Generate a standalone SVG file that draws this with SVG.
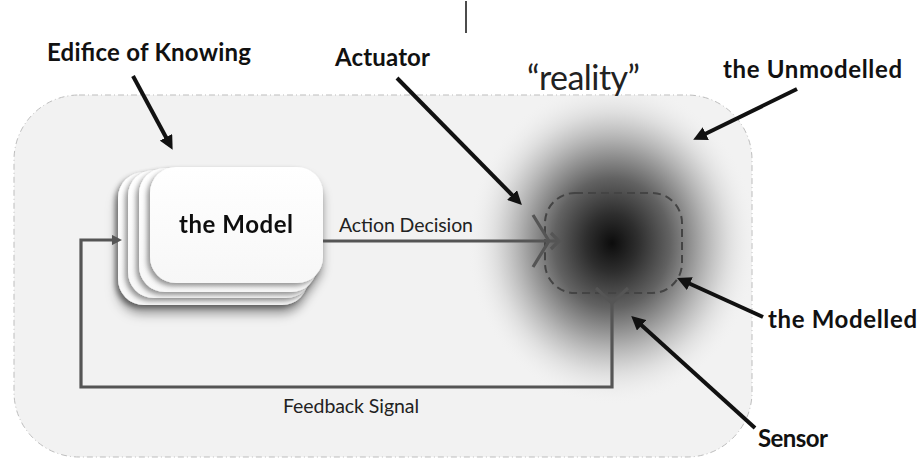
<svg xmlns="http://www.w3.org/2000/svg" width="920" height="461" viewBox="0 0 920 461">
  <defs>
    <style>
      .bold{font-family:Lato,"Open Sans","Liberation Sans",sans-serif;font-weight:700;font-size:24px;fill:#111}
      .reg{font-family:Lato,"Open Sans","Liberation Sans",sans-serif;font-size:19.5px;fill:#222}
      .pointer{stroke:#111;stroke-width:4;fill:none;marker-end:url(#head)}
      .link{stroke:#555;stroke-width:3.2;fill:none;stroke-linejoin:miter}
      .card{fill:url(#cardFill);filter:url(#cardShade)}
    </style>
    <marker id="head" viewBox="0 0 10 10" refX="3" refY="5" markerWidth="3.5" markerHeight="3.5" orient="auto">
      <path d="M0,0 L10,5 L0,10 z" fill="#111"/>
    </marker>
    <marker id="headGray" viewBox="0 0 10 10" refX="2" refY="5" markerWidth="3.2" markerHeight="3.2" orient="auto">
      <path d="M0,0 L10,5 L0,10 z" fill="#555"/>
    </marker>
    <radialGradient id="field" cx="0.5" cy="0.5" r="0.5">
      <stop offset="0" stop-color="#0c0c0c"/>
      <stop offset="0.18" stop-color="#2e2e2e"/>
      <stop offset="0.4" stop-color="#626262"/>
      <stop offset="0.6" stop-color="#a4a4a4"/>
      <stop offset="0.8" stop-color="#d8d8d8" stop-opacity="0.8"/>
      <stop offset="1" stop-color="#f2f2f2" stop-opacity="0"/>
    </radialGradient>
    <linearGradient id="cardFill" x1="0" y1="0" x2="0" y2="1">
      <stop offset="0" stop-color="#ffffff"/>
      <stop offset="1" stop-color="#f7f7f7"/>
    </linearGradient>
    <clipPath id="frame">
      <rect x="14" y="95" width="738" height="362" rx="65"/>
    </clipPath>
    <filter id="cardShade" x="-20%" y="-20%" width="140%" height="150%">
      <feDropShadow dx="-3" dy="3" stdDeviation="2.5" flood-color="#000" flood-opacity="0.4"/>
    </filter>
    <filter id="stackShadow" x="-20%" y="-20%" width="140%" height="160%">
      <feDropShadow dx="0" dy="8" stdDeviation="5" flood-color="#000" flood-opacity="0.35"/>
    </filter>
  </defs>

  <rect width="920" height="461" fill="#ffffff"/>
  <line x1="466" y1="1" x2="466" y2="33" stroke="#111" stroke-width="1.5"/>

  <!-- the Unmodelled: outer frame of reality -->
  <g id="unmodelled">
    <rect x="14" y="95" width="738" height="362" rx="65" fill="#f2f2f2" stroke="#bdbdbd" stroke-width="1" stroke-dasharray="6 3 1 3"/>
    <ellipse cx="612" cy="243" rx="145" ry="162" fill="url(#field)" clip-path="url(#frame)"/>
  </g>

  <!-- the Modelled: dashed region inside reality -->
  <g id="modelled">
    <rect x="545" y="193" width="137" height="100" rx="30" fill="none" stroke="#444" stroke-width="2" stroke-dasharray="8 5"/>
  </g>

  <!-- the Model: stacked cards -->
  <g id="model" filter="url(#stackShadow)">
    <rect class="card" x="118" y="172" width="190" height="133" rx="26"/>
    <rect class="card" x="128" y="170" width="184" height="128" rx="26"/>
    <rect class="card" x="139" y="168" width="178" height="124" rx="26"/>
    <rect class="card" x="150" y="167" width="173" height="116" rx="26"/>
    <text class="bold" x="179" y="233" textLength="114">the Model</text>
  </g>

  <!-- connectors -->
  <g id="connectors">
    <!-- action decision to actuator -->
    <line class="link" x1="323" y1="241" x2="558" y2="241"/>
    <polyline class="link" points="551,233 559,241 551,249" stroke="#666"/>
    <polyline class="link" points="533,215 549,241 533,267" stroke="#666"/>
    <!-- sensor and feedback loop -->
    <polyline class="link" points="596,288 612,303 628,288" stroke="#666"/>
    <polyline class="link" points="612,303 612,387 81,387 81,240 114,240" marker-end="url(#headGray)"/>
    <!-- annotation pointers -->
    <line class="pointer" x1="133" y1="76" x2="168" y2="141"/>
    <line class="pointer" x1="397" y1="78" x2="515" y2="198"/>
    <line class="pointer" x1="797" y1="89" x2="702" y2="135.5"/>
    <line class="pointer" x1="763" y1="317" x2="686" y2="282"/>
    <line class="pointer" x1="755" y1="428" x2="638.5" y2="322.5"/>
  </g>

  <!-- labels -->
  <g id="labels">
    <text class="bold" x="47" y="61" textLength="204">Edifice of Knowing</text>
    <text class="bold" x="335" y="66" textLength="95">Actuator</text>
    <text class="reg" x="527" y="90" style="font-size:34px" textLength="113">“reality”</text>
    <text class="bold" x="723" y="78" textLength="179">the Unmodelled</text>
    <text class="bold" x="768" y="328" textLength="149">the Modelled</text>
    <text class="bold" x="758" y="447" textLength="70">Sensor</text>
    <text class="reg" x="339" y="232" textLength="134">Action Decision</text>
    <text class="reg" x="283" y="413" textLength="136">Feedback Signal</text>
  </g>
</svg>
